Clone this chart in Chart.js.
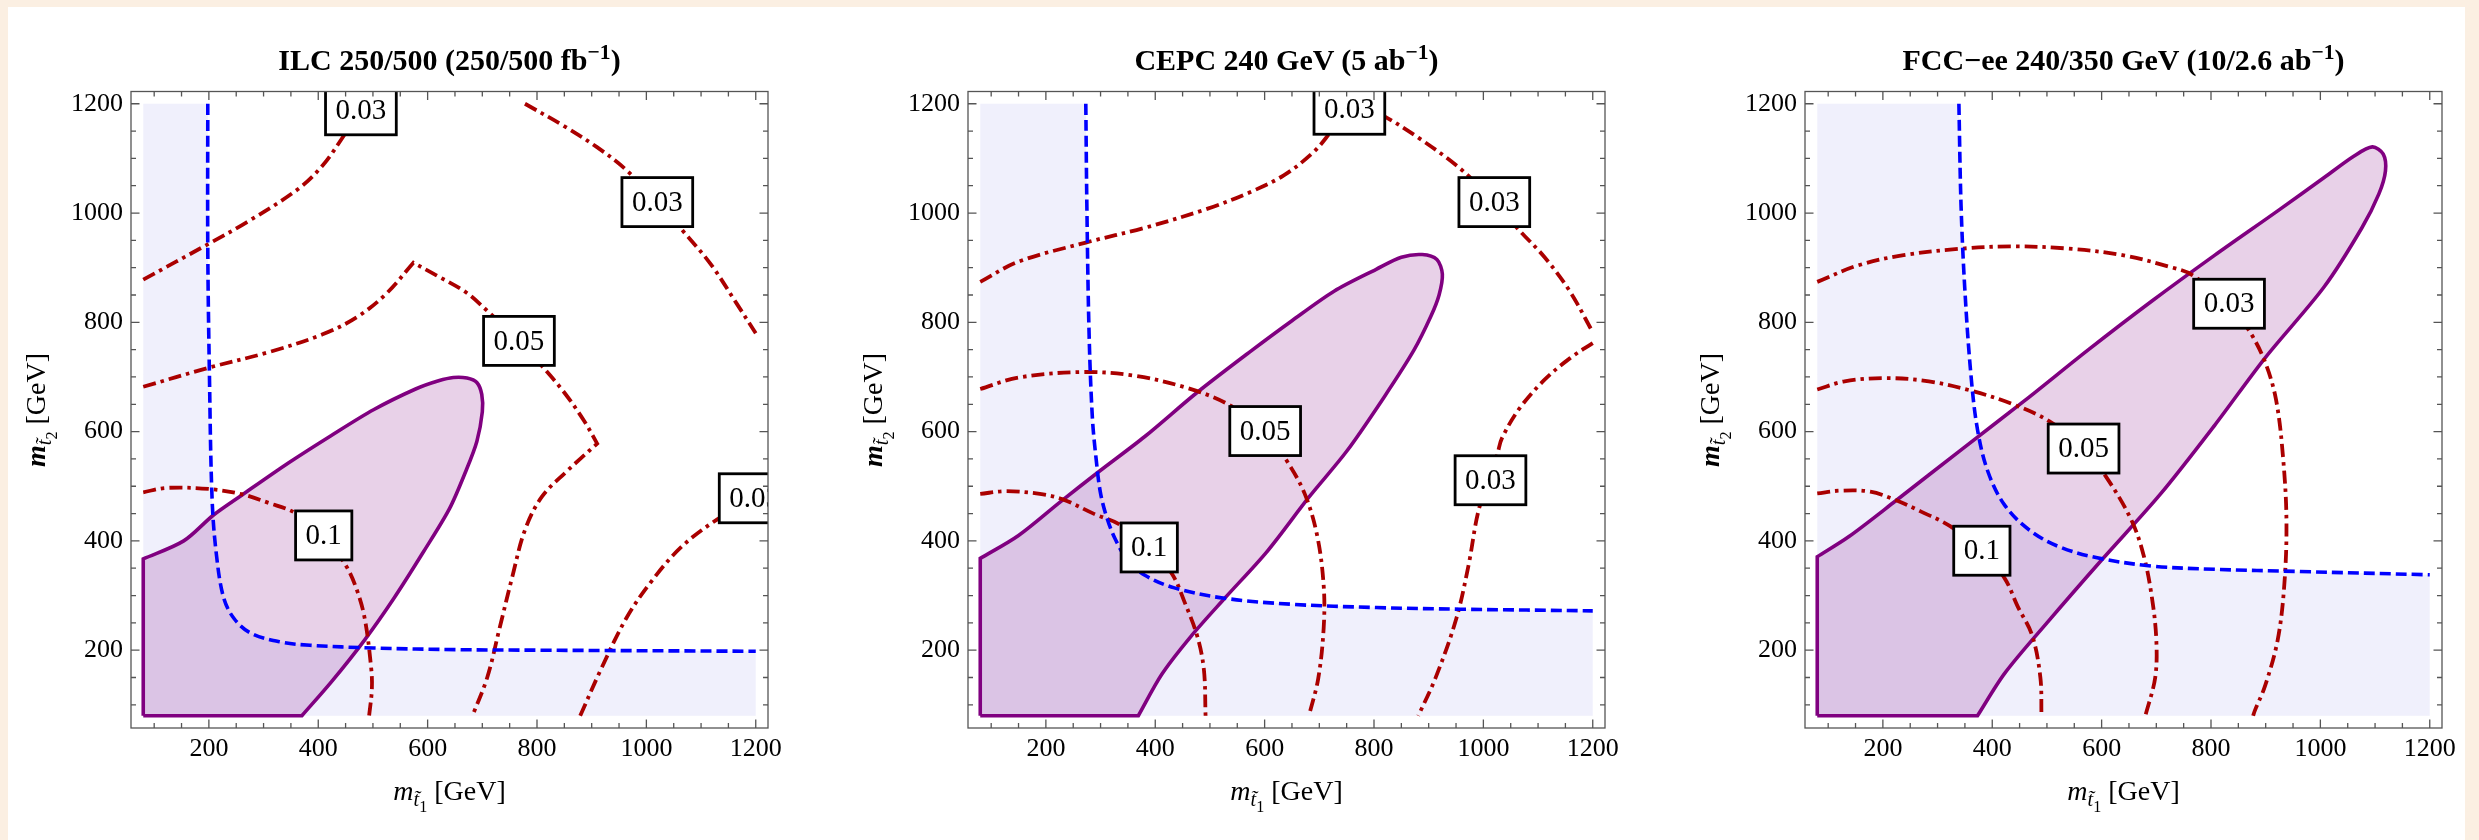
<!DOCTYPE html>
<html>
<head>
<meta charset="utf-8">
<script src="https://cdn.jsdelivr.net/npm/chart.js@4.4.1/dist/chart.umd.min.js"></script>
<style>
html, body { margin: 0; padding: 0; background: #fbefe2; overflow: hidden; }
#page { position: relative; width: 2479px; height: 840px; background: #fbefe2; }
#sheet { position: absolute; left: 8px; top: 7px; width: 2457px; height: 833px; background: #fff; }
.panel { position: absolute; top: 0; width: 800px; height: 840px; }
.panel canvas { position: absolute; left: 0; top: 0; }
.title { position: absolute; left: 131px; width: 637px; top: 45px; text-align: center; font: bold 30px "Liberation Serif"; line-height: 30px; color: #000; white-space: nowrap; }
.title sup { font-size: 0.72em; vertical-align: 0.5em; line-height: 0; }
.xlab { position: absolute; left: 131px; width: 637px; top: 777px; text-align: center; font: 28px "Liberation Serif"; line-height: 28px; color: #000; white-space: nowrap; }
.ylab { position: absolute; left: -164px; top: 396px; width: 400px; height: 28px; text-align: center; font: 28px "Liberation Serif"; line-height: 28px; color: #000; white-space: nowrap; transform: rotate(-90deg); }
.sub { font-size: 0.72em; position: relative; top: 0.32em; }
.sub2 { font-size: 0.8em; position: relative; top: 0.35em; }
</style>
</head>
<body>
<div id="page">
  <div id="sheet"></div>
  <div class="panel" style="left:0px">
    <canvas id="ilc" width="800" height="840"></canvas>
    <div class="title">ILC 250/500 (250/500 fb<sup>−1</sup>)</div>
    <div class="xlab"><i>m</i><span class="sub"><i>t̃</i><span class="sub2">1</span></span> [GeV]</div>
    <div class="ylab"><b><i>m</i></b><span class="sub"><i>t̃</i><span class="sub2">2</span></span> [GeV]</div>
  </div>
  <div class="panel" style="left:837px">
    <canvas id="cepc" width="800" height="840"></canvas>
    <div class="title">CEPC 240 GeV (5 ab<sup>−1</sup>)</div>
    <div class="xlab"><i>m</i><span class="sub"><i>t̃</i><span class="sub2">1</span></span> [GeV]</div>
    <div class="ylab"><b><i>m</i></b><span class="sub"><i>t̃</i><span class="sub2">2</span></span> [GeV]</div>
  </div>
  <div class="panel" style="left:1674px">
    <canvas id="fcc" width="800" height="840"></canvas>
    <div class="title">FCC−ee 240/350 GeV (10/2.6 ab<sup>−1</sup>)</div>
    <div class="xlab"><i>m</i><span class="sub"><i>t̃</i><span class="sub2">1</span></span> [GeV]</div>
    <div class="ylab"><b><i>m</i></b><span class="sub"><i>t̃</i><span class="sub2">2</span></span> [GeV]</div>
  </div>
</div>
<script>
// plot range (GeV) and ticks
const rangeLo = 80, rangeHi = 1200;
const axisMin = 57.6, axisMax = 1222.4;
const majorTicks = [200, 400, 600, 800, 1000, 1200];
const minorTicks = [100, 150, 250, 300, 350, 450, 500, 550, 650, 700, 750, 850, 900, 950, 1050, 1100, 1150];

// ILC 250/500
const ilcBlue = [[198,1200],[198,936],[201,705],[206,474],[214,373],[227,296],[246,258],[277,231],[331,215],[385,209],[501,204],[655,201],[809,200],[1200,198]];
const ilcPurple = [[80,80],[80,367],[80,367],[154,400],[208,447],[262,485],[346,543],[424,593],[501,640],[578,678],[620,693],[647,699],[672,698],[690,690],[699,668],[700,636],[690,582],[670,528],[640,459],[593,381],[539,296],[485,219],[424,142],[370,80],[370,80],[80,80]];
const ilcC03a = [[80,878],[200,944],[269,983],[362,1043],[408,1087],[451,1148],[485,1200]];
const ilcC03b = [[778,1200],[848,1160],[909,1121],[963,1079],[1020,1020],[1067,967],[1118,906],[1164,836],[1200,780]];
const ilcC05 = [[80,682],[200,717],[308,745],[408,778],[470,809],[524,852],[574,909],[574,909],[616,886],[670,855],[709,821],[767,766],[809,720],[848,674],[886,620],[910,578],[910,578],[880,551],[855,528],[809,481],[778,420],[755,335],[732,242],[709,150],[682,80]];
const ilcC10 = [[80,489],[123,497],[200,495],[262,485],[308,470],[358,451],[410,410],[451,354],[470,312],[485,258],[497,165],[498,127],[493,80]];
const ilcC03c = [[879,80],[917,165],[963,258],[1010,327],[1064,389],[1129,439],[1200,479]];
const ilcLabels = [[478,1188,'0.03'],[1020,1020,'0.03'],[767,766,'0.05'],[410,410,'0.1'],[1198,478,'0.03']];

// CEPC 240
const cepcBlue = [[273,1200],[275,1011],[279,780],[285,626],[292,549],[300,487],[312,441],[327,403],[350,364],[381,337],[435,314],[527,295],[650,284],[804,278],[958,275],[1200,272]];
const cepcPurple = [[80,80],[80,368],[80,368],[150,410],[227,472],[296,526],[381,591],[477,672],[573,746],[650,803],[727,857],[804,897],[850,919],[888,924],[915,915],[925,888],[919,850],[904,811],[873,749],[819,664],[750,564],[681,480],[604,380],[527,295],[465,225],[412,156],[369,80],[369,80],[80,80]];
const cepcC03a = [[80,874],[150,911],[273,946],[381,973],[496,1008],[573,1038],[635,1069],[689,1111],[719,1146],[745,1180],[760,1195],[790,1190],[819,1177],[881,1138],[958,1081],[1020,1020],[1065,969],[1112,919],[1158,857],[1200,782]];
const cepcC03b = [[1200,762],[1158,734],[1112,695],[1065,641],[1034,588],[1027,564],[1013,511],[992,459],[973,356],[950,256],[912,148],[881,80]];
const cepcC05 = [[80,678],[150,699],[265,709],[358,703],[458,680],[535,649],[601,601],[639,549],[673,487],[696,410],[708,318],[708,241],[698,148],[681,80]];
const cepcC10 = [[80,486],[127,491],[189,486],[231,476],[289,449],[335,430],[389,388],[431,339],[454,287],[477,225],[489,164],[492,80]];
const cepcLabels = [[755,1189,'0.03'],[1020,1020,'0.03'],[601,601,'0.05'],[389,388,'0.1'],[1013,511,'0.03']];

// FCC-ee 240/350
const fccBlue = [[339,1200],[343,1012],[350,858],[361,704],[373,604],[392,527],[423,465],[469,419],[523,389],[592,369],[692,354],[807,348],[961,344],[1200,338]];
const fccPurple = [[80,80],[80,371],[80,371],[138,408],[223,473],[346,569],[461,658],[576,750],[692,839],[807,923],[922,1004],[1007,1065],[1061,1104],[1095,1121],[1115,1108],[1119,1077],[1107,1035],[1076,973],[1007,865],[899,735],[807,612],[707,485],[600,365],[500,250],[423,158],[373,80],[373,80],[80,80]];
const fccC03 = [[80,874],[154,904],[238,923],[346,935],[438,939],[538,935],[638,923],[730,900],[765,887],[833,834],[872,781],[899,727],[919,658],[932,550],[938,435],[934,319],[922,219],[899,135],[880,89],[877,80]];
const fccC05 = [[80,677],[130,692],[204,698],[284,692],[361,675],[438,650],[504,619],[567,569],[607,519],[654,439],[677,373],[692,296],[700,219],[698,150],[680,80]];
const fccC10 = [[80,487],[123,492],[177,490],[223,475],[269,454],[323,427],[381,382],[423,331],[446,281],[473,227],[488,150],[490,80]];
const fccLabels = [[833,834,'0.03'],[567,569,'0.05'],[381,382,'0.1']];

function pts(arr) {
    return arr.map(function (p) { return {x: p[0], y: p[1]}; });
}

function buildDatasets(blue, purple, contours) {
    // excluded region lies below/left of the blue curve
    var shade = [[rangeLo, rangeHi]].concat(blue, [[rangeHi, rangeLo], [rangeLo, rangeLo]]);
    var sets = [
        {data: pts(shade), borderWidth: 0, backgroundColor: 'rgb(240,240,252)', fill: 'shape', order: 4, tension: 0},
        {data: pts(purple), borderColor: 'rgb(128,0,128)', borderWidth: 3.6, backgroundColor: 'rgba(128,0,128,0.18)', fill: 'shape', order: 3, tension: 0.3}
    ];
    contours.forEach(function (c) {
        sets.push({data: pts(c), borderColor: 'rgb(170,0,0)', borderWidth: 3.8, borderDash: [13, 5, 3.5, 5], fill: false, order: 2, tension: 0.35});
    });
    sets.push({data: pts(blue), borderColor: 'rgb(0,0,255)', borderWidth: 3.6, borderDash: [11, 5], fill: false, order: 1, tension: 0.35});
    return sets;
}

// frame with inward ticks on all four sides
var frameTicks = {
    id: 'frameTicks',
    afterDraw: function (chart) {
        var ctx = chart.ctx, a = chart.chartArea, x = chart.scales.x, y = chart.scales.y;
        ctx.save();
        ctx.strokeStyle = '#555';
        ctx.lineWidth = 1.3;
        ctx.strokeRect(a.left, a.top, a.right - a.left, a.bottom - a.top);
        ctx.beginPath();
        function mark(v, len) {
            var px = x.getPixelForValue(v), py = y.getPixelForValue(v);
            ctx.moveTo(px, a.bottom); ctx.lineTo(px, a.bottom - len);
            ctx.moveTo(px, a.top); ctx.lineTo(px, a.top + len);
            ctx.moveTo(a.left, py); ctx.lineTo(a.left + len, py);
            ctx.moveTo(a.right, py); ctx.lineTo(a.right - len, py);
        }
        majorTicks.forEach(function (v) { mark(v, 8.5); });
        minorTicks.forEach(function (v) { mark(v, 5); });
        ctx.stroke();
        ctx.restore();
    }
};

// boxed contour labels
var contourLabels = {
    id: 'contourLabels',
    afterDatasetsDraw: function (chart, args, opts) {
        var ctx = chart.ctx, a = chart.chartArea, x = chart.scales.x, y = chart.scales.y;
        ctx.save();
        ctx.beginPath();
        ctx.rect(a.left, a.top, a.right - a.left, a.bottom - a.top);
        ctx.clip();
        ctx.font = '29px "Liberation Serif"';
        ctx.textAlign = 'center';
        ctx.textBaseline = 'middle';
        (opts.labels || []).forEach(function (l) {
            var px = x.getPixelForValue(l[0]), py = y.getPixelForValue(l[1]);
            var w = ctx.measureText(l[2]).width + 20, h = 49;
            ctx.fillStyle = '#fff';
            ctx.fillRect(px - w / 2, py - h / 2, w, h);
            ctx.lineWidth = 2.8;
            ctx.strokeStyle = '#000';
            ctx.strokeRect(px - w / 2, py - h / 2, w, h);
            ctx.fillStyle = '#000';
            ctx.fillText(l[2], px, py + 1);
        });
        ctx.restore();
    }
};

function makeChart(id, blue, purple, contours, labels) {
    var tickFont = {family: 'Liberation Serif', size: 26};
    var fixedTicks = function (axis) {
        axis.ticks = majorTicks.map(function (v) { return {value: v}; });
    };
    new Chart(document.getElementById(id), {
        type: 'line',
        data: {datasets: buildDatasets(blue, purple, contours)},
        options: {
            responsive: false,
            animation: false,
            events: [],
            layout: {padding: {left: 0, right: 32, top: 91.5, bottom: 72}},
            elements: {point: {radius: 0}},
            plugins: {
                legend: {display: false},
                tooltip: {enabled: false},
                contourLabels: {labels: labels}
            },
            scales: {
                x: {
                    type: 'linear', min: axisMin, max: axisMax,
                    grid: {display: false, drawTicks: false}, border: {display: false},
                    afterBuildTicks: fixedTicks,
                    afterFit: function (s) { s.height = 40; },
                    ticks: {font: tickFont, color: '#000', padding: 6, maxRotation: 0, autoSkip: false,
                        callback: function (v) { return String(v); }}
                },
                y: {
                    type: 'linear', min: axisMin, max: axisMax,
                    grid: {display: false, drawTicks: false}, border: {display: false},
                    afterBuildTicks: fixedTicks,
                    afterFit: function (s) { s.width = 131; },
                    ticks: {font: tickFont, color: '#000', padding: 8, autoSkip: false,
                        callback: function (v) { return String(v); }}
                }
            }
        },
        plugins: [contourLabels, frameTicks]
    });
}

makeChart('ilc', ilcBlue, ilcPurple, [ilcC03a, ilcC03b, ilcC05, ilcC10, ilcC03c], ilcLabels);
makeChart('cepc', cepcBlue, cepcPurple, [cepcC03a, cepcC03b, cepcC05, cepcC10], cepcLabels);
makeChart('fcc', fccBlue, fccPurple, [fccC03, fccC05, fccC10], fccLabels);
</script>
</body>
</html>
